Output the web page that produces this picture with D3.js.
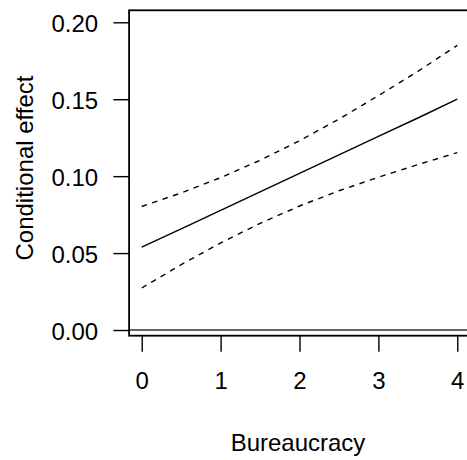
<!DOCTYPE html>
<html>
<head>
<meta charset="utf-8">
<script src="https://cdn.jsdelivr.net/npm/d3@7"></script>
<style>
  html, body { margin: 0; padding: 0; background: #fff; }
  svg { display: block; font-family: "Liberation Sans", Arial, Helvetica, sans-serif; }
</style>
</head>
<body>
<svg id="chart" width="467" height="460"></svg>
<script>
// Data
const bureaucracy = [0, 0.5, 1, 1.5, 2, 2.5, 3, 3.5, 4];
const effect      = [0.0538, 0.0658, 0.0778, 0.0898, 0.1018, 0.1138, 0.1258, 0.1378, 0.1500];
const upperCI     = [0.0803, 0.0891, 0.0990, 0.1103, 0.1230, 0.1371, 0.1523, 0.1681, 0.1850];
const lowerCI     = [0.0273, 0.0425, 0.0566, 0.0693, 0.0806, 0.0905, 0.0993, 0.1075, 0.1153];
const xTicks = [0, 1, 2, 3, 4];
const yTicks = [0.00, 0.05, 0.10, 0.15, 0.20];
const xTitle = "Bureaucracy";
const yTitle = "Conditional effect";

(function () {
const svg = d3.select("#chart");
const pLeft = 129.1, pRight = 469.9, pTop = 10.3, pBottom = 335.7;
const fs = "24px";

const x = d3.scaleLinear().domain([-0.16, 4.16]).range([pLeft, pRight]);
const y = d3.scaleLinear().domain([-0.0037, 0.2078]).range([pBottom, pTop]);

// reference line at zero
svg.append("line")
  .attr("x1", pLeft).attr("x2", pRight)
  .attr("y1", y(0)).attr("y2", y(0))
  .attr("stroke", "#333").attr("stroke-width", 1.6);

const line = d3.line().x((d, i) => x(bureaucracy[i])).y(d => y(d));

svg.append("path").datum(effect)
  .attr("d", line).attr("fill", "none")
  .attr("stroke", "#000").attr("stroke-width", 1.4);

[upperCI, lowerCI].forEach(arr => {
  svg.append("path").datum(arr)
    .attr("d", line).attr("fill", "none")
    .attr("stroke", "#000").attr("stroke-width", 1.4)
    .attr("stroke-dasharray", "5.5,5.5");
});

// box
svg.append("rect")
  .attr("x", pLeft).attr("y", pTop)
  .attr("width", pRight - pLeft).attr("height", pBottom - pTop)
  .attr("fill", "none").attr("stroke", "#000").attr("stroke-width", 1.8);

// y axis
const yAxis = svg.append("g")
  .attr("transform", `translate(${pLeft},0)`)
  .call(d3.axisLeft(y).tickValues(yTicks).tickFormat(d3.format(".2f")).tickSize(15.7).tickPadding(0));
yAxis.select(".domain").remove();
yAxis.attr("font-family", null).attr("font-size", null);
yAxis.selectAll(".tick line").attr("stroke", "#000").attr("stroke-width", 1.4);
yAxis.selectAll(".tick text")
  .attr("x", -31).attr("dy", null).attr("y", 9.5)
  .attr("fill", "#000").style("font-size", fs)
  .attr("text-anchor", "end");

// x axis
const xAxis = svg.append("g")
  .attr("transform", `translate(0,${pBottom})`)
  .call(d3.axisBottom(x).tickValues(xTicks).tickFormat(d3.format("d")).tickSize(16).tickPadding(0));
xAxis.select(".domain").remove();
xAxis.attr("font-family", null).attr("font-size", null);
xAxis.selectAll(".tick line").attr("stroke", "#000").attr("stroke-width", 1.4);
xAxis.selectAll(".tick text")
  .attr("dy", null).attr("y", 389 - pBottom)
  .attr("fill", "#000").style("font-size", fs);

// titles
svg.append("text")
  .attr("x", (pLeft + pRight) / 2 - 1.5).attr("y", 451)
  .attr("text-anchor", "middle").style("font-size", fs)
  .text(xTitle);

svg.append("text")
  .attr("transform", `translate(33,168) rotate(-90)`)
  .attr("text-anchor", "middle").style("font-size", fs)
  .text(yTitle);
})();
</script>
</body>
</html>
